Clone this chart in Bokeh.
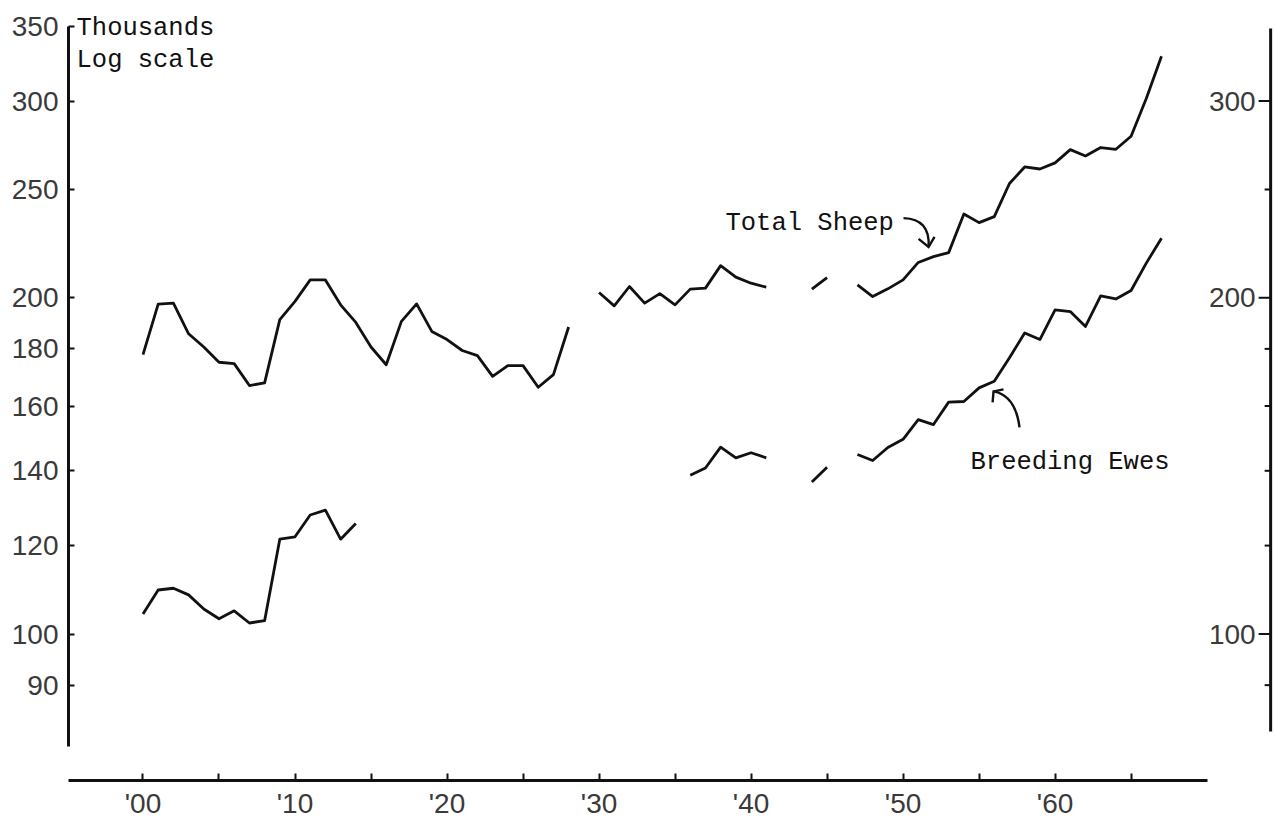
from bokeh.plotting import figure
from bokeh.models import Range1d, FixedTicker, Label
from bokeh.core.properties import value
from bokeh.embed import file_html
from bokeh.resources import INLINE

# Sheep numbers (thousands), one value per year; None marks a year with no record
years = list(range(1900, 1968))

total_sheep = [
    177.9, 197.4, 197.8, 185.7, 180.7, 175.1, 174.6, 166.9, 167.8, 191.2,   # 1900-09
    198.5, 207.5, 207.5, 197.1, 190.1, 180.7, 174.2, 190.5, 197.5, 186.6,   # 1910-19
    183.5, 179.4, 177.5, 170.1, 173.9, 173.9, 166.3, 170.7, 188.3, None,    # 1920-29
    202.2, 196.7, 204.7, 197.8, 201.7, 197.1, 203.6, 204.0, 213.7, 208.7,   # 1930-39
    206.1, 204.4, None, None, 203.6, 208.5, None, 205.4, 200.5, 203.7,      # 1940-49
    207.5, 215.1, 217.7, 219.5, 237.7, 233.5, 236.4, 253.1, 261.9, 260.8,   # 1950-59
    264.1, 271.4, 267.9, 272.6, 271.6, 279.0, 301.6, 329.0,                 # 1960-67
]

breeding_ewes = [
    104.2, 109.5, 109.9, 108.4, 105.3, 103.2, 104.9, 102.3, 102.8, 121.6,   # 1900-09
    122.2, 127.8, 129.1, 121.6, 125.6, None, None, None, None, None,        # 1910-19
    None, None, None, None, None, None, None, None, None, None,             # 1920-29
    None, None, None, None, None, None, 138.7, 140.8, 147.0, 143.8,         # 1930-39
    145.3, 143.8, None, None, 136.8, 141.0, None, 144.8, 143.0, 146.9,      # 1940-49
    149.4, 155.6, 154.0, 161.3, 161.5, 166.1, 168.4, 176.7, 186.0, 183.5,   # 1950-59
    195.1, 194.4, 188.5, 200.8, 199.5, 203.0, 214.8, 226.1,                 # 1960-67
]

x_ticks = [1900, 1910, 1920, 1930, 1940, 1950, 1960]
x_tick_labels = ["'00", "'10", "'20", "'30", "'40", "'50", "'60"]
x_minor_ticks = [1905, 1915, 1925, 1935, 1945, 1955, 1965]

y_ticks = [90, 100, 120, 140, 160, 180, 200, 250, 300, 350]
y_tick_labels = ["90", "100", "120", "140", "160", "180", "200", "250", "300", "350"]

right_ticks = [100, 200, 300]
right_tick_labels = ["100", "200", "300"]
right_minor_ticks = [90, 120, 140, 160, 180, 250]

NAN = float("nan")


def series(vals):
    return [NAN if v is None else v for v in vals]


INK = "#111111"
DIGIT_FONT = "Liberation Sans"
DIGIT_SIZE = "28px"
DIGIT_COLOR = "#3a3a3a"
TYPE_FONT = "Liberation Mono"

p = figure(
    width=1275, height=821,
    y_axis_type="log",
    x_range=Range1d(1895.1, 1974.5),
    y_range=Range1d(73.94, 369.1),
    output_backend="svg", toolbar_location=None,
    min_border_left=68, min_border_right=0, min_border_top=0, min_border_bottom=39,
)
p.outline_line_color = None
p.xgrid.visible = False
p.ygrid.visible = False
p.background_fill_color = "white"
p.border_fill_color = "white"

# bottom axis: decade labels, ticks every five years pointing up
xa = p.xaxis[0]
xa.ticker = FixedTicker(ticks=x_ticks, minor_ticks=x_minor_ticks)
xa.major_label_overrides = dict(zip(x_ticks, x_tick_labels))
xa.bounds = (1895.1, 1970.0)
xa.axis_line_width = 3
xa.axis_line_color = INK
xa.major_tick_in = 7
xa.major_tick_out = 0
xa.minor_tick_in = 7
xa.minor_tick_out = 0
xa.major_tick_line_width = 2
xa.minor_tick_line_width = 2
xa.major_tick_line_color = INK
xa.minor_tick_line_color = INK
xa.major_label_standoff = 7
xa.major_label_text_font = DIGIT_FONT
xa.major_label_text_font_size = DIGIT_SIZE
xa.major_label_text_color = DIGIT_COLOR

# left log axis
ya = p.yaxis[0]
ya.ticker = FixedTicker(ticks=y_ticks, minor_ticks=[])
ya.major_label_overrides = dict(zip(y_ticks, y_tick_labels))
ya.bounds = (79.3, 350)
ya.axis_line_width = 3
ya.axis_line_color = INK
ya.major_tick_in = 6
ya.major_tick_out = 0
ya.major_tick_line_width = 2
ya.major_tick_line_color = INK
ya.minor_tick_line_color = None
ya.major_label_standoff = 10
ya.major_label_text_font = DIGIT_FONT
ya.major_label_text_font_size = DIGIT_SIZE
ya.major_label_text_color = DIGIT_COLOR

# right-hand scale, drawn with its labels on the inner side of the rule
RIGHT_X = 1974.18
PX = 1 / 15.2  # one pixel in years
p.segment(x0=[RIGHT_X], y0=[81.8], x1=[RIGHT_X], y1=[348.4],
          line_width=3, line_color=INK)
p.segment(x0=[RIGHT_X] * len(right_ticks), y0=right_ticks,
          x1=[RIGHT_X - 12 * PX] * len(right_ticks), y1=right_ticks,
          line_width=2, line_color=INK)
p.segment(x0=[RIGHT_X] * len(right_minor_ticks), y0=right_minor_ticks,
          x1=[RIGHT_X - 6 * PX] * len(right_minor_ticks), y1=right_minor_ticks,
          line_width=2, line_color=INK)
p.text(x=[RIGHT_X] * len(right_ticks), y=right_ticks, text=right_tick_labels,
       x_offset=-15, text_align="right", text_baseline="middle",
       text_font=value(DIGIT_FONT), text_font_size=DIGIT_SIZE, text_color=DIGIT_COLOR)

# the two series
p.line(years, series(total_sheep), line_width=2.8, line_color=INK, line_join="round")
p.line(years, series(breeding_ewes), line_width=2.8, line_color=INK, line_join="round")

# typed captions
for txt, x, y in [("Thousands", 1895.63, 348.4),
                  ("Log scale", 1895.63, 326.3),
                  ("Total Sheep", 1938.32, 232.9),
                  ("Breeding Ewes", 1954.44, 142.4)]:
    p.add_layout(Label(x=x, y=y, text=txt, text_font=TYPE_FONT,
                       text_font_size="25.5px", text_color=INK,
                       text_baseline="alphabetic", text_align="left"))

# hand-drawn pointer arrows
p.quadratic(x0=[1950.03], y0=[235.7], x1=[1951.68], y1=[222.1],
            cx=[1951.8], cy=[235.3], line_width=2.4, line_color=INK)
p.line([1951.02, 1951.68, 1952.07], [225.8, 222.1, 226.7],
       line_width=2.4, line_color=INK, line_join="miter")

p.quadratic(x0=[1957.66], y0=[153.1], x1=[1955.95], y1=[164.9],
            cx=[1957.4], cy=[163.5], line_width=2.4, line_color=INK)
p.line([1955.89, 1955.95, 1956.61], [161.2, 164.9, 165.6],
       line_width=2.4, line_color=INK, line_join="miter")

open("out.html", "w").write(file_html(p, INLINE))
